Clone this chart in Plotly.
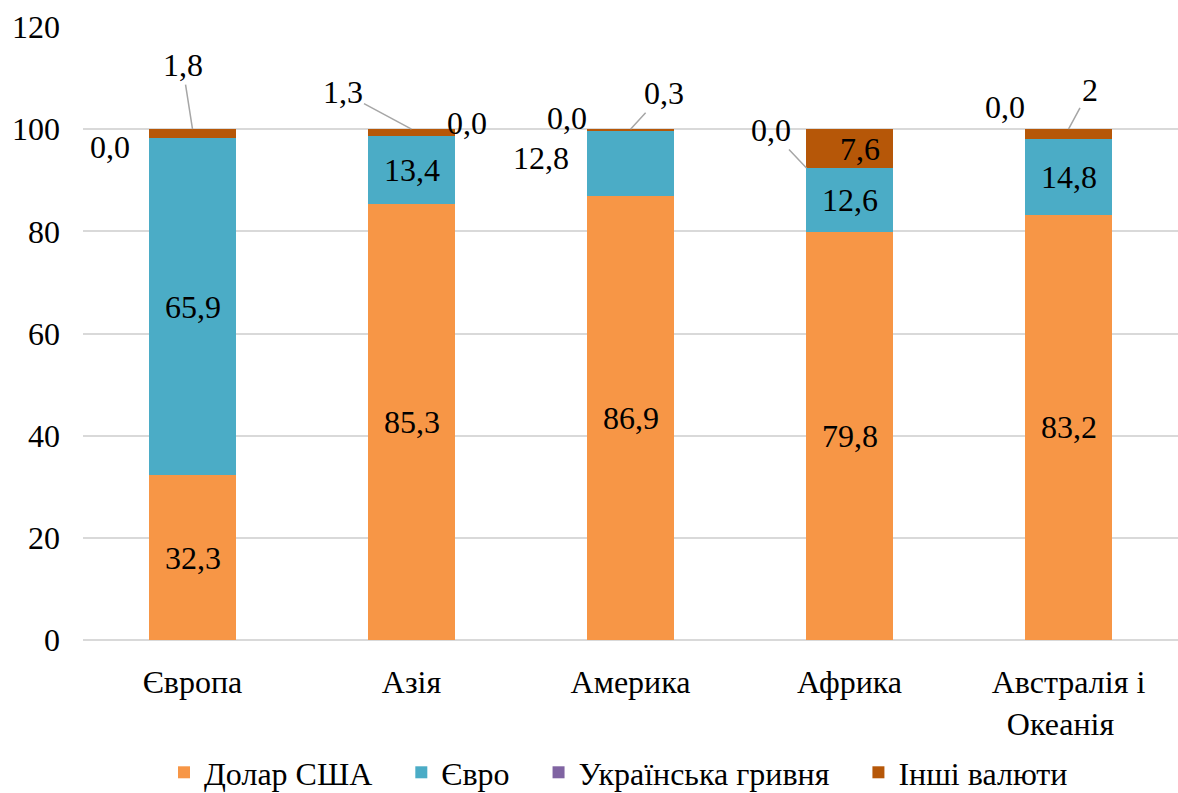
import plotly.graph_objects as go

# Regions and currency shares (%)
regions = ["Європа", "Азія", "Америка", "Африка", "Австралія і<br>Океанія&nbsp;&nbsp;"]
usd = [32.3, 85.3, 86.9, 79.8, 83.2]
eur = [65.9, 13.4, 12.8, 12.6, 14.8]
uah = [0.0, 0.0, 0.0, 0.0, 0.0]
other = [1.8, 1.3, 0.3, 7.6, 2]

series_names = ["Долар США", "Євро", "Українська гривня", "Інші валюти"]
colors = ["#F79646", "#4BACC6", "#8064A2", "#B65708"]
series = [usd, eur, uah, other]

FONT = "Liberation Serif"
FS = 32
PAD = "&nbsp;" * 3  # extra spacing between legend entries

fig = go.Figure()
for name, vals, col in zip(series_names, series, colors):
    fig.add_trace(go.Bar(
        name=name + PAD, x=regions, y=vals, marker=dict(color=col, line=dict(width=0)),
    ))


def fmt(v):
    return str(v).replace(".", ",")


annotations = []
# base of each segment
base_eur = usd
base_uah = [u + e for u, e in zip(usd, eur)]
base_oth = [b + h for b, h in zip(base_uah, uah)]
top = [b + o for b, o in zip(base_oth, other)]

# labels centred inside the dollar segments
for r, v in zip(regions, usd):
    annotations.append(dict(x=r, y=v / 2, text=fmt(v), showarrow=False))

# euro labels (Америка placed to the left of its bar)
eur_shift = [(0, 0), (0, 0), (-90, 5), (0, 0), (0, 0)]
for r, b, v, (dx, dy) in zip(regions, base_eur, eur, eur_shift):
    annotations.append(dict(x=r, y=b + v / 2, text=fmt(v), showarrow=False,
                            xshift=dx, yshift=dy))

# hryvnia labels (zero values at the top of the euro segment)
uah_pos = [(-83, -9, None), (55, 13, None), (-64, 13, None),
           (-43, 0, (-36, -38)), (-64, 32, None)]
for r, b, v, (dx, dy, arr) in zip(regions, base_uah, uah, uah_pos):
    if arr is None:
        annotations.append(dict(x=r, y=b + v, text=fmt(v), showarrow=False,
                                xshift=dx, yshift=dy))
    else:
        annotations.append(dict(x=r, y=b + v, text=fmt(v), showarrow=True,
                                arrowhead=0, arrowwidth=1.5, arrowcolor="#A6A6A6",
                                ax=arr[0], ay=arr[1], xshift=dx, yshift=dy))

# other currencies: leader lines from the top of each bar
oth_pos = [(-10, -64), (-69, -37), (33, -36), None, (21, -39)]
for r, b, t, v, pos in zip(regions, base_oth, top, other, oth_pos):
    if pos is None:
        annotations.append(dict(x=r, y=b + v / 2, text=fmt(v), showarrow=False,
                                xshift=10))
    else:
        annotations.append(dict(x=r, y=t, text=fmt(v), showarrow=True,
                                arrowhead=0, arrowwidth=1.5, arrowcolor="#A6A6A6",
                                ax=pos[0], ay=pos[1]))

for a in annotations:
    a["font"] = dict(family=FONT, size=FS, color="black")

fig.update_layout(
    barmode="stack",
    bargap=0.6,
    width=1178, height=793,
    margin=dict(l=83, r=0, t=27, b=153, autoexpand=False),
    plot_bgcolor="white", paper_bgcolor="white",
    font=dict(family=FONT, size=FS, color="black"),
    annotations=annotations,
    showlegend=True,
    legend=dict(orientation="h", x=0.5, xanchor="center", y=-0.261, yanchor="bottom",
                font=dict(family=FONT, size=FS, color="black"),
                itemwidth=30, traceorder="normal"),
    xaxis=dict(showgrid=False, showline=False, ticks="", tickfont=dict(family=FONT, size=FS),
               ticklabelstandoff=20, automargin=False),
    yaxis=dict(range=[0, 120], dtick=20, showgrid=True, gridcolor="#D9D9D9",
               gridwidth=1.5, zeroline=True, zerolinecolor="#D9D9D9", zerolinewidth=1.5,
               showline=False, ticks="", tickfont=dict(family=FONT, size=FS),
               ticklabelstandoff=22, automargin=False),
)

fig.write_html("out.html")
